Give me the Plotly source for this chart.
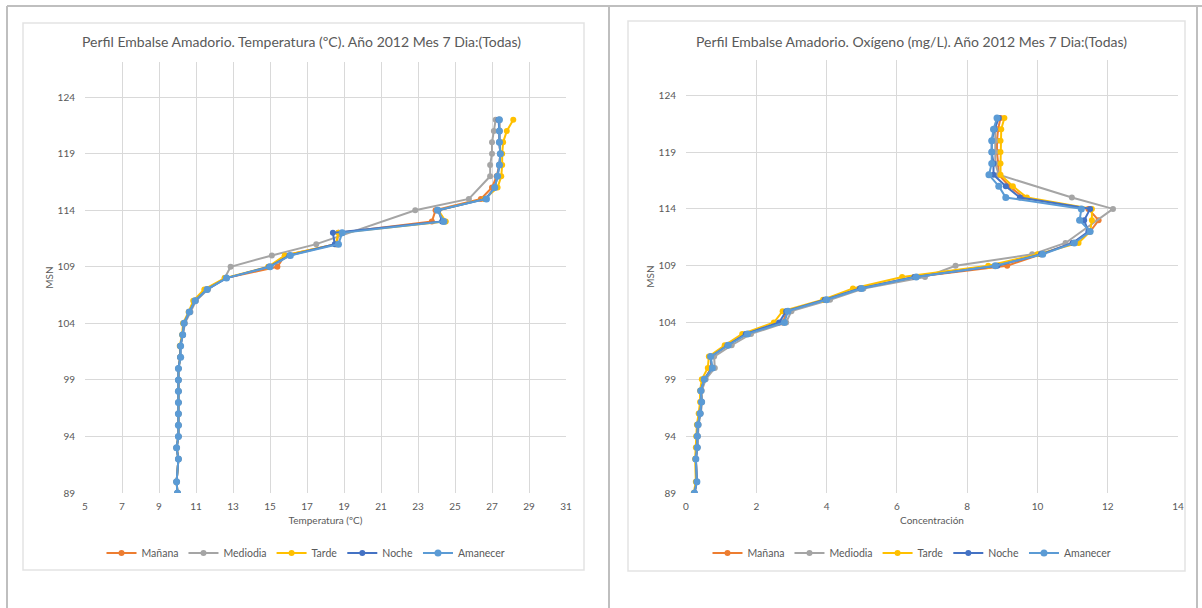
import plotly.graph_objects as go

W, H = 1202, 608

# Depth levels (m.s.n.m.) of each profile
levels = [89, 90] + list(range(92, 123))
# Mediodia profile skips a few levels
levels_mediodia = [89, 90] + list(range(92, 112)) + [114, 115] + list(range(117, 123))

series_names = ["Mañana", "Mediodia", "Tarde", "Noche", "Amanecer"]
series_colors = ["#ED7D31", "#A5A5A5", "#FFC000", "#4472C4", "#5B9BD5"]

# ---- Temperatura (ºC) ----
temp_manana = [10.0, 9.95, 10.05, 9.95, 10.05, 10.05, 10.05, 10.05, 10.05, 10.05, 10.05,
               10.15, 10.15, 10.28, 10.35, 10.62, 10.92, 11.55, 12.6, 15.4, 15.8, 18.6,
               18.7, 23.75, 23.95, 26.4, 27.0, 27.25, 27.4, 27.45, 27.4, 27.4, 27.4]
temp_mediodia = [10.0, 9.95, 10.05, 9.95, 10.05, 10.05, 10.05, 10.05, 10.05, 10.05, 10.05,
                 10.15, 10.15, 10.3, 10.4, 10.7, 11.0, 11.65, 12.55, 12.87, 15.1, 17.5,
                 22.85, 25.75, 26.9, 26.9, 27.0, 27.0, 27.1, 27.2]
temp_tarde = [10.0, 9.95, 10.05, 9.95, 10.05, 10.05, 10.05, 10.05, 10.05, 10.05, 10.05,
              10.15, 10.12, 10.25, 10.3, 10.6, 10.85, 11.45, 12.55, 14.9, 15.8, 18.55,
              18.7, 24.5, 24.1, 26.6, 27.3, 27.5, 27.55, 27.55, 27.6, 27.8, 28.15]
temp_noche = [10.0, 9.95, 10.05, 9.95, 10.05, 10.05, 10.05, 10.05, 10.05, 10.05, 10.05,
              10.15, 10.15, 10.28, 10.35, 10.64, 10.95, 11.6, 12.65, 14.95, 16.05, 18.5,
              18.4, 24.3, 24.1, 26.65, 27.15, 27.3, 27.4, 27.45, 27.4, 27.4, 27.35]
temp_amanecer = [10.0, 9.95, 10.05, 9.95, 10.05, 10.05, 10.05, 10.05, 10.05, 10.05, 10.05,
                 10.17, 10.17, 10.28, 10.35, 10.64, 10.95, 11.6, 12.65, 15.0, 16.1, 18.7,
                 18.9, 24.4, 24.05, 26.7, 27.15, 27.3, 27.4, 27.45, 27.4, 27.4, 27.4]

# ---- Oxígeno (mg/L) ----
oxy_manana = [0.24, 0.31, 0.28, 0.32, 0.32, 0.34, 0.40, 0.44, 0.42, 0.52, 0.72,
              0.70, 1.18, 1.72, 2.75, 2.88, 3.98, 4.95, 6.5, 9.14, 10.1, 11.0,
              11.5, 11.74, 11.45, 9.6, 9.2, 8.9, 8.88, 8.85, 8.85, 8.88, 8.95]
oxy_mediodia = [0.24, 0.31, 0.28, 0.33, 0.34, 0.36, 0.42, 0.46, 0.45, 0.56, 0.82,
                0.80, 1.3, 1.85, 2.85, 3.0, 4.1, 5.05, 6.8, 7.67, 9.85, 10.8,
                12.15, 10.98, 8.9, 8.8, 8.8, 8.8, 8.8, 8.85]
oxy_tarde = [0.22, 0.28, 0.26, 0.28, 0.29, 0.31, 0.36, 0.40, 0.40, 0.45, 0.62,
             0.65, 1.1, 1.6, 2.5, 2.75, 3.9, 4.75, 6.15, 8.6, 10.0, 11.17,
             11.5, 11.55, 11.55, 9.7, 9.3, 8.95, 8.95, 8.95, 8.95, 8.97, 9.06]
oxy_noche = [0.24, 0.31, 0.28, 0.32, 0.32, 0.34, 0.40, 0.44, 0.42, 0.52, 0.74,
             0.70, 1.18, 1.7, 2.65, 2.85, 3.95, 4.95, 6.5, 8.86, 10.1, 11.0,
             11.45, 11.33, 11.5, 9.5, 9.1, 8.75, 8.75, 8.7, 8.7, 8.78, 8.9]
oxy_amanecer = [0.24, 0.31, 0.28, 0.32, 0.32, 0.34, 0.40, 0.44, 0.42, 0.52, 0.75,
                0.70, 1.2, 1.75, 2.8, 2.9, 4.0, 5.0, 6.55, 8.8, 10.15, 11.05,
                11.5, 11.2, 11.25, 9.1, 8.9, 8.62, 8.7, 8.7, 8.7, 8.75, 8.85]

temp_series = [temp_manana, temp_mediodia, temp_tarde, temp_noche, temp_amanecer]
oxy_series = [oxy_manana, oxy_mediodia, oxy_tarde, oxy_noche, oxy_amanecer]
series_levels = [levels, levels_mediodia, levels, levels, levels]

title_temp = "Perfil Embalse Amadorio. Temperatura (ºC). Año 2012 Mes 7 Dia:(Todas)"
title_oxy = "Perfil Embalse Amadorio. Oxígeno (mg/L). Año 2012 Mes 7 Dia:(Todas)"

FONT = "Lato"
TXT = "#595959"
GRID = "#D9D9D9"


def px_x(p):
    return p / W


def px_y(p):
    return 1 - p / H


fig = go.Figure()

for i, name in enumerate(series_names):
    msize = 7 if name == "Amanecer" else 6
    fig.add_trace(go.Scatter(
        x=temp_series[i], y=series_levels[i], name=name, mode="lines+markers",
        line=dict(color=series_colors[i], width=2),
        marker=dict(color=series_colors[i], size=msize),
        xaxis="x", yaxis="y", legend="legend"))
for i, name in enumerate(series_names):
    msize = 7 if name == "Amanecer" else 6
    fig.add_trace(go.Scatter(
        x=oxy_series[i], y=series_levels[i], name=name, mode="lines+markers",
        line=dict(color=series_colors[i], width=2),
        marker=dict(color=series_colors[i], size=msize),
        xaxis="x2", yaxis="y2", legend="legend2"))

axis_common = dict(showgrid=True, gridcolor=GRID, gridwidth=1, zeroline=False,
                   showline=False, ticks="", automargin=False,
                   tickfont=dict(family=FONT, size=10, color=TXT))
title_font = dict(family=FONT, size=10, color=TXT)

fig.update_layout(
    template="none",
    width=W, height=H,
    margin=dict(l=0, r=0, t=0, b=0),
    paper_bgcolor="white", plot_bgcolor="white",
    font=dict(family=FONT, color=TXT),
    xaxis=dict(domain=[px_x(85), px_x(566)], range=[5, 31], tick0=5, dtick=2,
               anchor="y", ticklabelstandoff=6,
               title=dict(text="Temperatura (ºC)", standoff=5, font=title_font),
               **axis_common),
    yaxis=dict(domain=[px_y(493), px_y(62)], range=[89, 127.1], tick0=89, dtick=5,
               anchor="x", ticklabelstandoff=9,
               title=dict(text="MSN", standoff=2, font=title_font),
               **axis_common),
    xaxis2=dict(domain=[px_x(686), px_x(1178)], range=[0, 14], tick0=0, dtick=2,
                anchor="y2", ticklabelstandoff=6,
                title=dict(text="Concentración", standoff=5, font=title_font),
                **axis_common),
    yaxis2=dict(domain=[px_y(493), px_y(60)], range=[89, 127.1], tick0=89, dtick=5,
                anchor="x2", ticklabelstandoff=9,
                title=dict(text="MSN", standoff=2, font=title_font),
                **axis_common),
    legend=dict(orientation="h", x=px_x(306), xanchor="center", y=px_y(553),
                yanchor="middle", font=dict(family=FONT, size=10.5, color=TXT),
                bgcolor="rgba(0,0,0,0)", itemwidth=30, tracegroupgap=0),
    legend2=dict(orientation="h", x=px_x(912), xanchor="center", y=px_y(553),
                 yanchor="middle", font=dict(family=FONT, size=10.5, color=TXT),
                 bgcolor="rgba(0,0,0,0)", itemwidth=30, tracegroupgap=0),
    showlegend=True,
)

# Chart titles
for text, cx in [(title_temp, 301), (title_oxy, 911)]:
    fig.add_annotation(text=text, x=px_x(cx), y=px_y(41), xref="paper", yref="paper",
                       xanchor="center", yanchor="middle", showarrow=False,
                       font=dict(family=FONT, size=14, color=TXT))

# Sheet frame and chart boxes
frame = "#BFBFBF"
shapes = [
    dict(type="line", x0=px_x(7), x1=1, y0=px_y(6), y1=px_y(6), line=dict(color=frame, width=2)),
    dict(type="line", x0=px_x(7), x1=px_x(7), y0=px_y(6), y1=0, line=dict(color=frame, width=2)),
    dict(type="line", x0=px_x(609), x1=px_x(609), y0=px_y(6), y1=0, line=dict(color=frame, width=2)),
    dict(type="line", x0=px_x(1197), x1=px_x(1197), y0=px_y(6), y1=0, line=dict(color=frame, width=2)),
    dict(type="rect", x0=px_x(23), x1=px_x(584), y0=px_y(570), y1=px_y(23),
         line=dict(color="#E3E3E3", width=1.5)),
    dict(type="rect", x0=px_x(628), x1=px_x(1185), y0=px_y(571), y1=px_y(21),
         line=dict(color="#E3E3E3", width=1.5)),
]
for s in shapes:
    s.update(xref="paper", yref="paper", layer="below")
    fig.add_shape(**s)

fig.write_html("out.html")
